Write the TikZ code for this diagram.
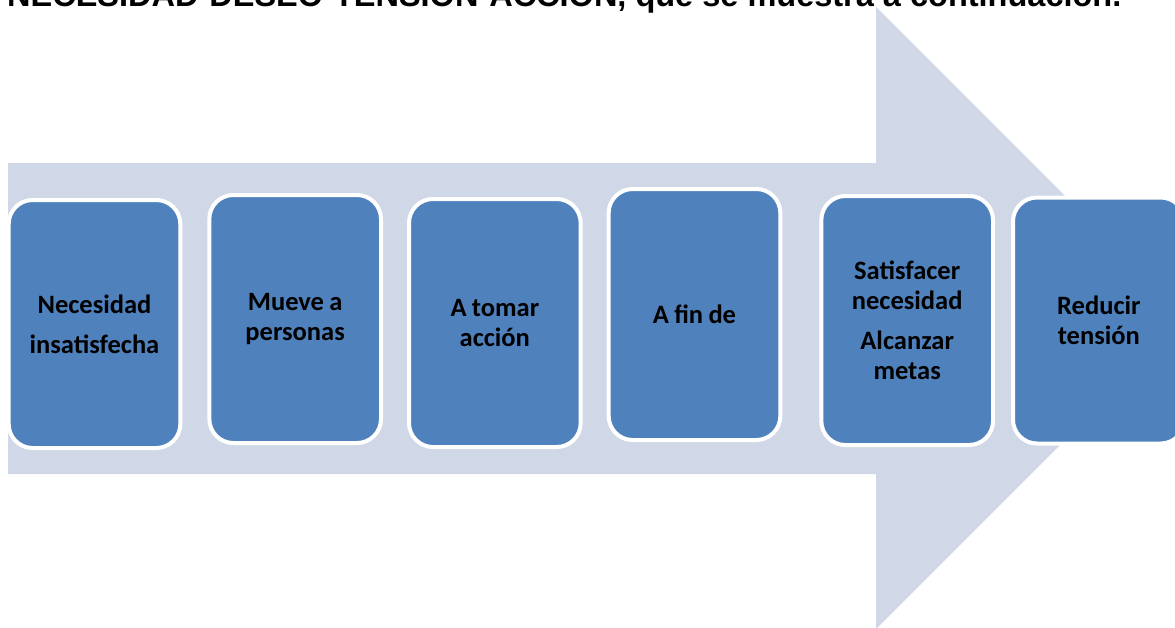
\documentclass[tikz,border=0pt]{standalone}
\usepackage{fontspec}
\setmainfont{Carlito}
\newfontfamily\titlefont{Liberation Sans}
\usepackage{xcolor}
\usepackage{tikz}
\usetikzlibrary{positioning}

\definecolor{flecha}{RGB}{208,216,232}
\definecolor{caja}{RGB}{79,129,189}

\begin{document}
\begin{tikzpicture}[
    x=1pt, y=-1pt,
    box/.style={rectangle, rounded corners=24pt, draw=white, fill=caja, line width=4pt, minimum width=171pt, minimum height=248pt, text width=165pt, align=center, font=\fontsize{26.5}{30}\selectfont\bfseries, execute at begin node={\spaceskip=0.2em\relax}},
]

% marco
\useasboundingbox (0,0) rectangle (1175,627);
\fill[white] (0,0) rectangle (1175,627);

% titulo (cortado arriba)
\node[anchor=base west, inner sep=0pt, font=\titlefont\fontsize{32.5}{36}\selectfont\bfseries] (titulo) at (7,6.5) {NECESIDAD-DESEO-TENSIÓN-ACCIÓN, que se muestra a continuación.};

% flecha de fondo
\fill[flecha] (8,163) -- (876,163) -- (876,7) -- (1187,318) -- (876,629) -- (876,474) -- (8,474) -- cycle;

% caja 1
\node[box] (n1) at (94.5,324) {Necesidad\\[10pt]insatisfecha};

% caja 2
\node[box, right=25pt of n1, yshift=5pt] (n2) {Mueve a\\personas};

% caja 3
\node[box, right=24pt of n2, yshift=-4pt] (n3) {A tomar\\acción};

% caja 4
\node[box, right=24pt of n3, yshift=8.5pt, minimum height=251pt] (n4) {A fin de};

% caja 5
\node[box, right=37pt of n4, yshift=-6pt, minimum height=249pt] (n5) {Satisfacer\\necesidad\\[10pt]Alcanzar\\metas};

% caja 6
\node[box, right=16pt of n5, minimum height=246pt] (n6) {Reducir\\tensión};

\end{tikzpicture}
\end{document}
